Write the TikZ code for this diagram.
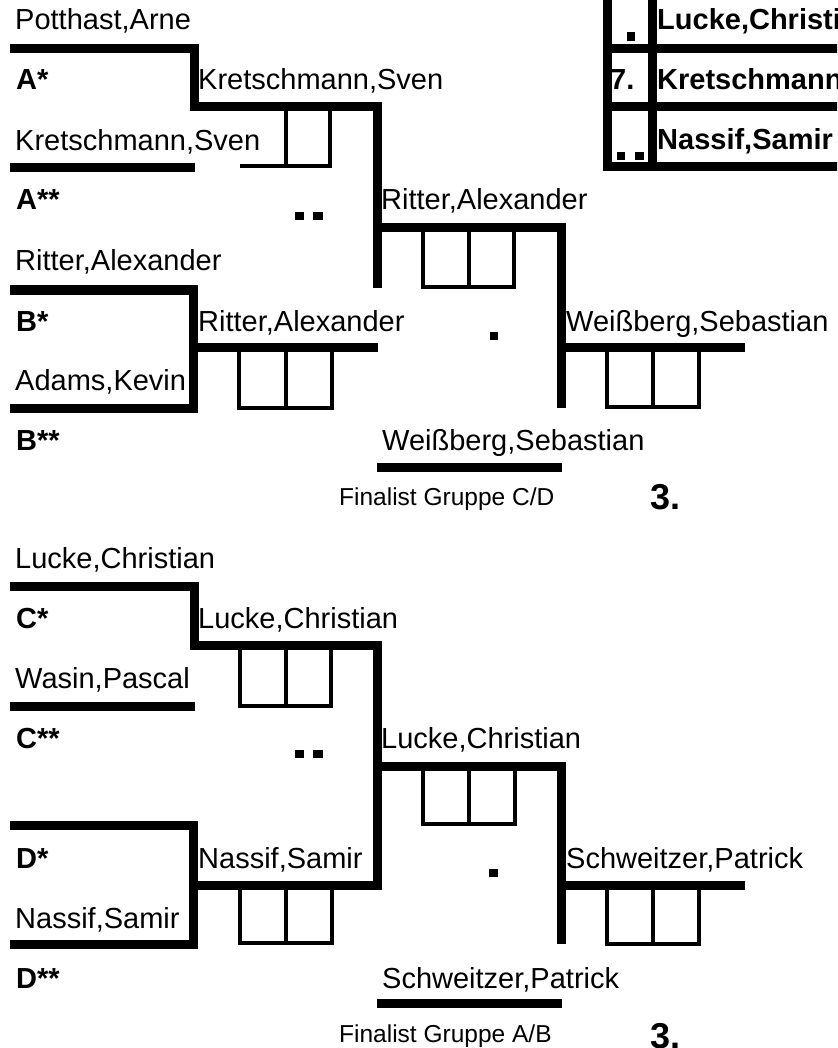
\documentclass[tikz,border=0pt]{standalone}
\usepackage{fontspec}
\setmainfont{Liberation Sans}
\begin{document}
\begin{tikzpicture}[x=1pt,y=-1pt,
    line join=miter,
    bracket/.style={line width=9pt},
    scorebox/.style={line width=4pt},
    player/.style={anchor=base west,inner sep=0pt,font=\fontsize{29}{31}\selectfont},
    seed/.style={anchor=base west,inner sep=0pt,font=\fontsize{29}{31}\selectfont\bfseries},
    caption/.style={anchor=base west,inner sep=0pt,font=\fontsize{24.5}{26}\selectfont},
    place/.style={anchor=base west,inner sep=0pt,font=\fontsize{36}{38}\selectfont\bfseries}]
        \useasboundingbox (0,0) rectangle (837,1048);
        \clip (0,0) rectangle (837,1048);
        % table top right
        \draw[bracket] (607,-10) -- (607,167) -- (845,167);
        \draw[bracket] (652,-10) -- (652,167);
        \draw[bracket] (603,49) -- (845,49);
        \draw[bracket] (603,107) -- (845,107);
        \fill (627,32) rectangle (635,41);
        \node[seed] (t7) at (610,90) {7.};
        \fill (617,152) rectangle (625,160);
        \fill (635,152) rectangle (644,160);
        \node[seed] (tLucke) at (657,30) {Lucke,Christian};
        \node[seed] (tKretschmann) at (657,90) {Kretschmann,Sven};
        \node[seed] (tNassif) at (657,150) {Nassif,Samir};

        % group A/B
        \node[player] (a1) at (15,30) {Potthast,Arne};
        \node[seed] (aS) at (16,90) {A*};
        \node[player] (a2) at (15,151) {Kretschmann,Sven};
        \node[seed] (aSS) at (16,210) {A**};
        \node[player] (b1) at (15,271) {Ritter,Alexander};
        \node[seed] (bS) at (16,331) {B*};
        \node[player] (b2) at (15,390) {Adams,Kevin};
        \node[seed] (bSS) at (16,450) {B**};
        \draw[bracket] (10,49) -- (194,49) -- (194,107) -- (377,107) -- (377,288);
        \draw[bracket] (10,168) -- (195,168);
        \draw[bracket] (10,290) -- (193,290) -- (193,408) -- (10,408);
        \draw[bracket] (193,347) -- (378,347);
        \node[player] (aWin) at (198,90) {Kretschmann,Sven};
        \node[player] (bWin) at (198,331) {Ritter,Alexander};
        \draw[scorebox] (240,166) -- (330,166) -- (330,107);
        \draw[scorebox] (286,107) -- (286,166);
        \draw[scorebox] (239,347) -- (239,408) -- (332,408) -- (332,347);
        \draw[scorebox] (286,347) -- (286,408);
        \fill (295,212) rectangle (304,220);
        \fill (313,212) rectangle (323,220);
        % semi final A/B
        \node[player] (abWin) at (381,210) {Ritter,Alexander};
        \draw[bracket] (373,228) -- (561,228) -- (561,408);
        \draw[scorebox] (423,228) -- (423,287) -- (514,287) -- (514,228);
        \draw[scorebox] (469,228) -- (469,287);
        \fill (490,332) rectangle (498,340);
        \node[player] (abFin) at (566,331) {Weißberg,Sebastian};
        \draw[bracket] (561,347) -- (745,347);
        \draw[scorebox] (607,347) -- (607,407) -- (699,407) -- (699,347);
        \draw[scorebox] (653,347) -- (653,407);
        \node[player] (abThird) at (382,450) {Weißberg,Sebastian};
        \draw[bracket] (377,467) -- (562,467);
        \node[caption] (abCap) at (339,505) {Finalist Gruppe C/D};
        \node[place] (abPlace) at (650,509) {3.};

        % group C/D
        \node[player] (c1) at (15,568) {Lucke,Christian};
        \node[seed] (cS) at (16,628) {C*};
        \node[player] (c2) at (15,688) {Wasin,Pascal};
        \node[seed] (cSS) at (16,748) {C**};
        \node[seed] (dS) at (16,868) {D*};
        \node[player] (d2) at (15,928) {Nassif,Samir};
        \node[seed] (dSS) at (16,988) {D**};
        \draw[bracket] (10,586) -- (194,586) -- (194,645) -- (377,645) -- (377,885) -- (193,885);
        \draw[bracket] (10,706) -- (195,706);
        \draw[bracket] (10,825) -- (193,825) -- (193,944) -- (10,944);
        \node[player] (cWin) at (198,628) {Lucke,Christian};
        \node[player] (dWin) at (198,868) {Nassif,Samir};
        \draw[scorebox] (240,645) -- (240,706) -- (331,706) -- (331,645);
        \draw[scorebox] (286,645) -- (286,706);
        \draw[scorebox] (240,885) -- (240,943) -- (332,943) -- (332,885);
        \draw[scorebox] (286,885) -- (286,943);
        \fill (295,750) rectangle (304,758);
        \fill (313,750) rectangle (323,758);
        % semi final C/D
        \node[player] (cdWin) at (381,748) {Lucke,Christian};
        \draw[bracket] (373,766) -- (561,766) -- (561,944);
        \draw[scorebox] (423,766) -- (423,824) -- (515,824) -- (515,766);
        \draw[scorebox] (469,766) -- (469,824);
        \fill (489,869) rectangle (498,877);
        \node[player] (cdFin) at (566,868) {Schweitzer,Patrick};
        \draw[bracket] (561,885) -- (745,885);
        \draw[scorebox] (607,885) -- (607,944) -- (699,944) -- (699,885);
        \draw[scorebox] (653,885) -- (653,944);
        \node[player] (cdThird) at (382,988) {Schweitzer,Patrick};
        \draw[bracket] (377,1003) -- (562,1003);
        \node[caption] (cdCap) at (339,1042) {Finalist Gruppe A/B};
        \node[place] (cdPlace) at (650,1048) {3.};
\end{tikzpicture}
\end{document}
